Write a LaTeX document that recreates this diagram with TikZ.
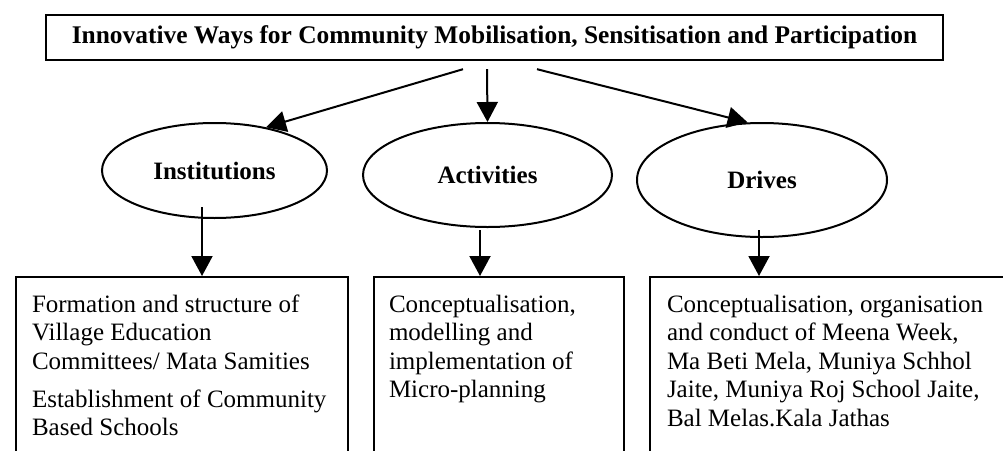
\documentclass[tikz,border=0pt]{standalone}
\usepackage{fontspec}
\setmainfont{Liberation Serif}
\usetikzlibrary{arrows.meta,shapes.geometric,calc}
\begin{document}
\begin{tikzpicture}[x=1pt,y=-1pt,
  line width=2pt,
  arr/.style={-{Triangle[length=20pt,width=21pt]}},
  headbox/.style={draw,rectangle,inner sep=0pt,line width=2.4pt,font=\fontsize{25.4}{30}\selectfont\bfseries},
  oval/.style={ellipse,draw,inner sep=0pt,font=\fontsize{25}{30}\selectfont\bfseries},
  panel/.style={draw,rectangle,anchor=north west,inner sep=0pt,minimum height=200pt},
  body/.style={anchor=base west,inner sep=0pt,font=\fontsize{25}{28.5}\selectfont}]
\useasboundingbox (0,0) rectangle (1003,450);
\clip (0,0) rectangle (1003,450);

% heading
\node[headbox,minimum width=897pt,minimum height=45pt] (title) at (494.5,37.5)
  {Innovative Ways for Community Mobilisation, Sensitisation and Participation};

% three categories
\node[oval,minimum width=225pt,minimum height=95pt] (inst) at (214.5,170.5) {Institutions};
\node[oval,minimum width=249pt,minimum height=104pt] (act) at (487.5,175) {Activities};
\node[oval,minimum width=250pt,minimum height=114pt] (drv) at (762,180) {Drives};

% detail panels (open at the bottom edge)
\node[panel,minimum width=332pt] (p1) at (15,276) {};
\node[panel,minimum width=250pt] (p2) at (373,276) {};
\node[panel,minimum width=370pt] (p3) at (649,276) {};

\node[body] (t1) at (31,312) {\parbox[t]{330pt}{\raggedright
  Formation and structure of\\
  Village Education\\
  Committees/ Mata Samities\\[9.5pt]
  Establishment of Community\\
  Based Schools}};
\node[body] (t2) at (388,312) {\parbox[t]{240pt}{\raggedright
  Conceptualisation,\\
  modelling and\\
  implementation of\\
  Micro-planning}};
\node[body] (t3) at (666,312) {\parbox[t]{340pt}{\raggedright
  Conceptualisation, organisation\\
  and conduct of Meena Week,\\
  Ma Beti Mela, Muniya Schhol\\
  Jaite, Muniya Roj School Jaite,\\
  Bal Melas.Kala Jathas}};

% heading to categories
\draw[arr] ($(title.south)+(-31.5,8)$) -- (inst.40);
\draw[arr] ($(title.south)+(-7.5,8)$) -- (act.north);
\draw[arr] ($(title.south)+(42.5,8)$) -- (drv.104);

% categories to panels
\draw[arr] ($(inst.south)+(-12.5,-12)$) coordinate (a1) -- (a1 |- p1.north);
\draw[arr] ($(act.south)+(-7.5,2)$) coordinate (a2) -- (a2 |- p2.north);
\draw[arr] ($(drv.south)+(-3,-8)$) coordinate (a3) -- (a3 |- p3.north);
\end{tikzpicture}
\end{document}
